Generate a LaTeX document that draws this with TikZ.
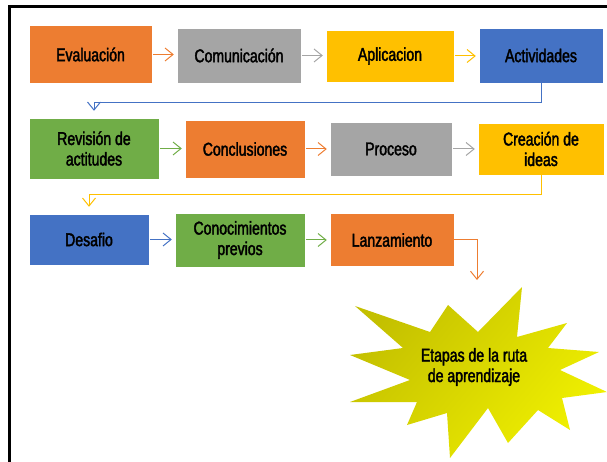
\documentclass[tikz,border=0pt]{standalone}
\usepackage{fontspec}
\setmainfont[FakeStretch=0.76,FakeBold=2]{Liberation Sans}
\usetikzlibrary{arrows.meta}
\definecolor{naranja}{HTML}{ED7D31}
\definecolor{gris}{HTML}{A5A5A5}
\definecolor{amarillo}{HTML}{FFC000}
\definecolor{azul}{HTML}{4472C4}
\definecolor{verde}{HTML}{70AD47}
\definecolor{olivo}{HTML}{C4C000}
\definecolor{limon}{HTML}{F0F000}
\tikzset{etapa/.style={draw=white, line width=0.4pt, align=center, inner sep=2pt, text=black, font=\fontsize{18.5}{20.5}\selectfont}}
\tikzset{flecha/.style={line width=1pt, -{Straight Barb[length=8pt,width=13pt]}, shorten <=1pt, shorten >=3pt}}

\begin{document}
\begin{tikzpicture}[x=1pt,y=-1pt]
\useasboundingbox (0,0) rectangle (607,462);
\draw[line width=2.2pt] (9.5,470) -- (9.5,6.5) -- (620,6.5);

% fila 1
\node[etapa, fill=naranja, minimum width=123pt, minimum height=58pt] (eval) at (90.5,54.5) {Evaluación};
\node[etapa, fill=gris, minimum width=124pt, minimum height=55pt] (comu) at (239,55.5) {Comunicación};
\node[etapa, fill=amarillo, minimum width=128pt, minimum height=52pt] (apli) at (390,56) {Aplicacion};
\node[etapa, fill=azul, minimum width=124pt, minimum height=55pt] (acti) at (541,55.5) {Actividades};

% fila 2
\node[etapa, fill=verde, minimum width=130pt, minimum height=61pt] (revi) at (94,148.5) {Revisión de\\actitudes};
\node[etapa, fill=naranja, minimum width=120pt, minimum height=58pt] (conc) at (245,149) {Conclusiones};
\node[etapa, fill=gris, minimum width=122pt, minimum height=54pt] (proc) at (391,149) {Proceso};
\node[etapa, fill=amarillo, minimum width=126pt, minimum height=52pt] (crea) at (541,149) {Creación de\\ideas};

% fila 3
\node[etapa, fill=azul, minimum width=120pt, minimum height=51pt] (desa) at (89,239.5) {Desafio};
\node[etapa, fill=verde, minimum width=130pt, minimum height=54pt] (cono) at (240,240) {Conocimientos\\previos};
\node[etapa, fill=naranja, minimum width=124pt, minimum height=53pt] (lanz) at (392,240) {Lanzamiento};

% estrella
\shade[top color=olivo, bottom color=limon, shading angle=50]
 (355,306) -- (430,332) -- (448,305) -- (478,332) -- (522,287) -- (517,337)
 -- (567,323) -- (548,348) -- (599,352) -- (560,370) -- (607,392) -- (562,398)
 -- (570,430) -- (538,410) -- (508,443) -- (488,408) -- (450,458) -- (447,413)
 -- (407,425) -- (417,402) -- (350,402) -- (410,380) -- (350,355) -- (403,348) -- cycle;
\node[align=center, font=\fontsize{18.5}{20.5}\selectfont] (meta) at (474,367) {Etapas de la ruta\\de aprendizaje};
\coordinate (punta) at (477,287);

\foreach \a/\b/\c in {eval/comu/naranja, comu/apli/gris, apli/acti/amarillo,
  revi/conc/verde, conc/proc/naranja, proc/crea/gris,
  desa/cono/azul, cono/lanz/verde}
 \draw[flecha, \c] (\a.east) -- (\a.east -| \b.west);

\draw[flecha, azul, shorten <=0pt, shorten >=7pt] (acti.south) -- ++(0,19) -| (revi.north);
\draw[flecha, amarillo, shorten <=0pt, shorten >=7pt] (crea.south) -- ++(0,19.5) -| (desa.north);
\draw[flecha, naranja, shorten <=0pt, shorten >=7pt] (lanz.east) -| (punta);
\end{tikzpicture}
\end{document}
